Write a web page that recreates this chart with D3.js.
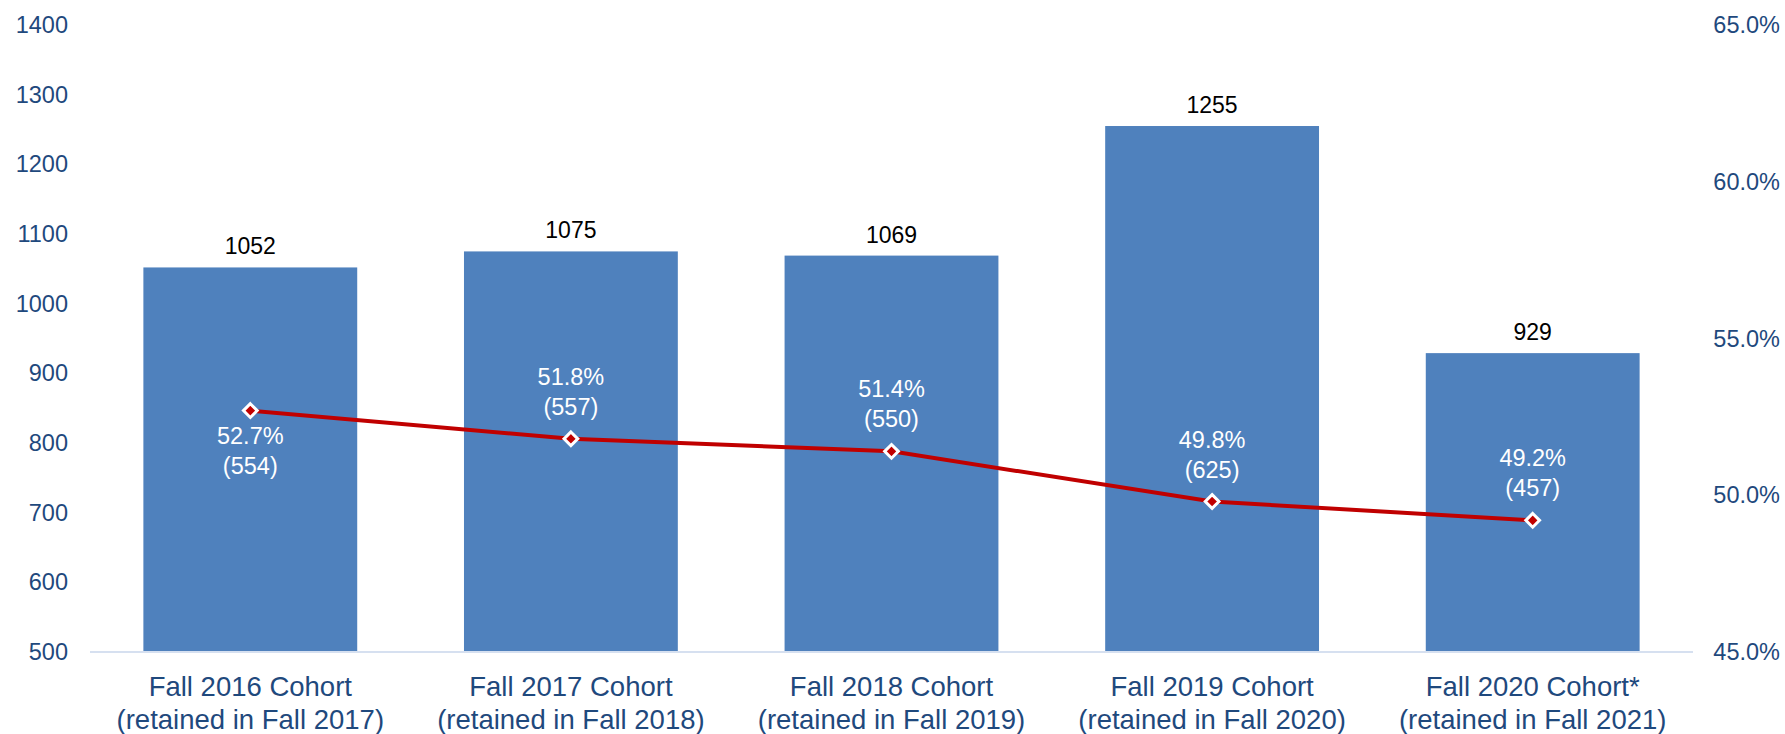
<!DOCTYPE html>
<html>
<head>
<meta charset="utf-8">
<script src="https://cdn.jsdelivr.net/npm/d3@7"></script>
<style>
	body { margin: 0; background: #fff; }
	text { font-family: 'Liberation Sans', Arial, sans-serif; }
</style>
</head>
<body>
<div id="chart"></div>
<script>
const cohorts = ['Fall 2016 Cohort', 'Fall 2017 Cohort', 'Fall 2018 Cohort', 'Fall 2019 Cohort', 'Fall 2020 Cohort*'];
const retainedIn = ['(retained in Fall 2017)', '(retained in Fall 2018)', '(retained in Fall 2019)', '(retained in Fall 2020)', '(retained in Fall 2021)'];
const cohortSize = [1052, 1075, 1069, 1255, 929];
const retainedCount = [554, 557, 550, 625, 457];
const retentionRate = [52.7, 51.8, 51.4, 49.8, 49.2];
const leftTicks = [500, 600, 700, 800, 900, 1000, 1100, 1200, 1300, 1400];
const rightTicks = [45, 50, 55, 60, 65];

const width = 1785;
const height = 734;

const x = d3.scaleBand().domain(cohorts).range([90, 1693]).paddingInner(0.333).paddingOuter(0.1665);
const y = d3.scaleLinear().domain([500, 1400]).range([652, 25]);
const y2 = d3.scaleLinear().domain([45, 65]).range([652, 25]);

const svg = d3.select('#chart').append('svg').attr('width', width).attr('height', height);

// Bars
svg
	.selectAll('rect.bar')
	.data(cohorts)
	.enter()
	.append('rect')
	.attr('class', 'bar')
	.attr('x', (d) => x(d))
	.attr('y', (d, i) => y(cohortSize[i]))
	.attr('width', x.bandwidth())
	.attr('height', (d, i) => y(500) - y(cohortSize[i]))
	.attr('fill', '#4F81BD');

// Baseline
svg.append('line').attr('x1', 90).attr('x2', 1693).attr('y1', y(500)).attr('y2', y(500)).attr('stroke', '#D6E0F0').attr('stroke-width', 2);

// Left axis
const leftAxis = svg
	.append('g')
	.attr('transform', 'translate(68,0)')
	.call(d3.axisLeft(y).tickValues(leftTicks).tickSize(0).tickPadding(0).tickFormat(d3.format('d')));
leftAxis.select('.domain').remove();
leftAxis.selectAll('text').attr('font-size', 23.5).attr('fill', '#1F497D').attr('font-family', "'Liberation Sans', Arial, sans-serif");

// Right axis
const rightAxis = svg
	.append('g')
	.attr('transform', 'translate(1780,0)')
	.call(d3.axisRight(y2).tickValues(rightTicks).tickSize(0).tickPadding(0).tickFormat((d) => d.toFixed(1) + '%'));
rightAxis.select('.domain').remove();
rightAxis.selectAll('text').attr('text-anchor', 'end').attr('font-size', 23.5).attr('fill', '#1F497D').attr('font-family', "'Liberation Sans', Arial, sans-serif");

// Category labels
const cats = svg.append('g');
cohorts.forEach((c, i) => {
	const cx = x(c) + x.bandwidth() / 2;
	const t = cats.append('text').attr('text-anchor', 'middle').attr('font-size', 27.5).attr('fill', '#1F497D');
	t.append('tspan').attr('x', cx).attr('y', 696).text(c);
	t.append('tspan').attr('x', cx).attr('y', 729).text(retainedIn[i]);
});

// Bar value labels
svg
	.selectAll('text.val')
	.data(cohorts)
	.enter()
	.append('text')
	.attr('class', 'val')
	.attr('x', (d) => x(d) + x.bandwidth() / 2)
	.attr('y', (d, i) => y(cohortSize[i]) - 13)
	.attr('text-anchor', 'middle')
	.attr('font-size', 23)
	.attr('fill', '#000')
	.text((d, i) => cohortSize[i]);

// Retention line
const line = d3
	.line()
	.x((d, i) => x(cohorts[i]) + x.bandwidth() / 2)
	.y((d) => y2(d));

svg.append('path').datum(retentionRate).attr('d', line).attr('fill', 'none').attr('stroke', '#C00000').attr('stroke-width', 4);

// Markers
svg
	.selectAll('path.marker')
	.data(retentionRate)
	.enter()
	.append('path')
	.attr('class', 'marker')
	.attr('d', d3.symbol().type(d3.symbolDiamond2).size(120))
	.attr('transform', (d, i) => `translate(${x(cohorts[i]) + x.bandwidth() / 2},${y2(d)})`)
	.attr('fill', '#C00000')
	.attr('stroke', '#fff')
	.attr('stroke-width', 3);

// Rate labels
retentionRate.forEach((r, i) => {
	const cx = x(cohorts[i]) + x.bandwidth() / 2;
	const below = i === 0;
	const y1 = below ? y2(r) + 33 : y2(r) - 54;
	const t = svg.append('text').attr('text-anchor', 'middle').attr('font-size', 23.5).attr('fill', '#fff');
	t.append('tspan').attr('x', cx).attr('y', y1).text(r.toFixed(1) + '%');
	t.append('tspan').attr('x', cx).attr('y', y1 + 30).text('(' + retainedCount[i] + ')');
});
</script>
</body>
</html>
